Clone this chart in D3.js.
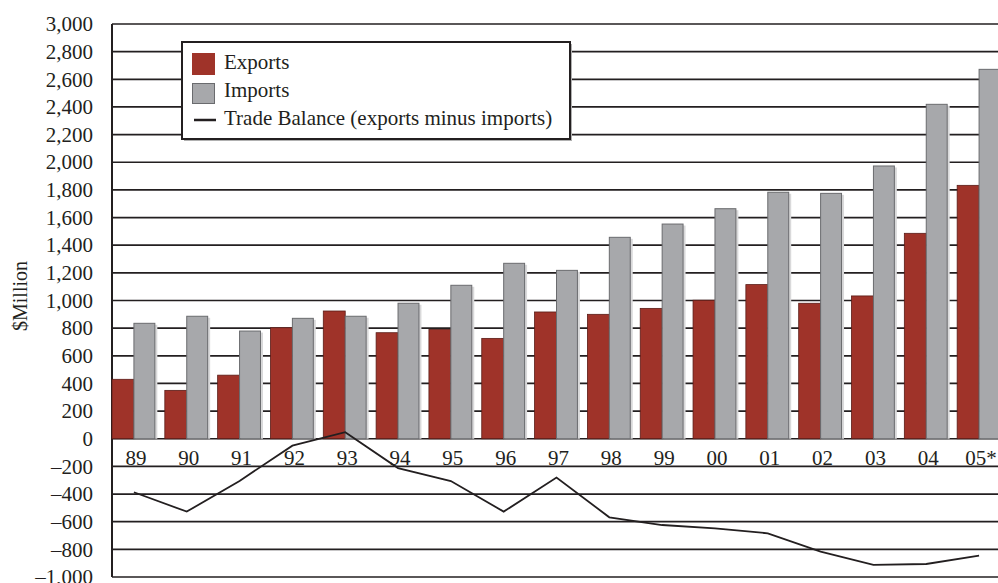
<!DOCTYPE html>
<html>
<head>
<meta charset="utf-8">
<script src="https://cdn.jsdelivr.net/npm/d3@7"></script>
<style>
  html, body { margin: 0; padding: 0; background: #ffffff; }
  svg { display: block; }
  text { font-family: "Liberation Serif", "Times New Roman", serif; fill: #231f20; }
</style>
</head>
<body>
<svg id="chart" width="998" height="583"></svg>
<script>
// ---- data ----
const categories = ["89","90","91","92","93","94","95","96","97","98","99","00","01","02","03","04","05*"];
const exportsVals = [430, 350, 460, 803, 924, 767, 791, 726, 917, 900, 943, 1002, 1115, 980, 1033, 1486, 1833];
const importsVals = [835, 886, 779, 871, 886, 980, 1110, 1269, 1218, 1457, 1553, 1664, 1783, 1775, 1973, 2419, 2672];
const balanceVals = [-387, -527, -305, -50, 47, -212, -306, -527, -281, -568, -624, -648, -684, -817, -913, -906, -846];
const yTicks = [-1000, -800, -600, -400, -200, 0, 200, 400, 600, 800, 1000, 1200, 1400, 1600, 1800, 2000, 2200, 2400, 2600, 2800, 3000];
const legendLabels = ["Exports", "Imports", "Trade Balance (exports minus imports)"];
const yAxisTitle = "$Million";

// ---- layout ----
const svg = d3.select("#chart");
const plotLeft = 112, plotRight = 1001, plotTop = 24, plotBottom = 577;
const ink = "#231f20";
const exportColor = "#9f3329", exportStroke = "#5a1c17";
const importColor = "#a7a8ab", importStroke = "#6a6b6e";

const x = d3.scaleBand().domain(categories).range([plotLeft, plotRight]).paddingInner(0.17).paddingOuter(0);
const xSub = d3.scaleBand().domain(["exp", "imp"]).range([0, x.bandwidth()]).padding(0);
const y = d3.scaleLinear().domain([-1000, 3000]).range([plotBottom, plotTop]);

// gridlines
svg.append("g").selectAll("line").data(yTicks).join("line")
  .attr("x1", plotLeft).attr("x2", 998)
  .attr("y1", d => y(d)).attr("y2", d => y(d))
  .attr("stroke", ink).attr("stroke-width", 1.7);

// y axis
const yAxis = d3.axisLeft(y).tickValues(yTicks).tickSize(0).tickPadding(19)
  .tickFormat(d => d3.format(",")(d).replace("-", "\u2013").replace("\u2212", "\u2013"));
const ga = svg.append("g").attr("transform", `translate(${plotLeft},0)`).call(yAxis);
ga.select(".domain").remove();
ga.selectAll("text").attr("font-size", 21).attr("fill", ink)
  .style("font-family", '"Liberation Serif", serif');
svg.append("line").attr("x1", plotLeft).attr("x2", plotLeft).attr("y1", plotTop).attr("y2", plotBottom)
  .attr("stroke", ink).attr("stroke-width", 2);

// y title
svg.append("text").attr("transform", `translate(27,296) rotate(-90)`)
  .attr("text-anchor", "middle").attr("font-size", 20).text(yAxisTitle);

// bars
const groups = svg.append("g").selectAll("g").data(categories).join("g")
  .attr("transform", d => `translate(${x(d)},0)`);
// shadows
groups.append("rect")
  .attr("x", xSub("imp") + 1.5).attr("width", xSub.bandwidth())
  .attr("y", (d, i) => y(importsVals[i]) + 1.5).attr("height", (d, i) => y(0) - y(importsVals[i]) - 1.5)
  .attr("fill", "#d9d9da");
groups.append("rect")
  .attr("x", xSub("exp")).attr("width", xSub.bandwidth())
  .attr("y", (d, i) => y(exportsVals[i])).attr("height", (d, i) => y(0) - y(exportsVals[i]))
  .attr("fill", exportColor).attr("stroke", exportStroke).attr("stroke-width", 0.8);
groups.append("rect")
  .attr("x", xSub("imp")).attr("width", xSub.bandwidth() - 1)
  .attr("y", (d, i) => y(importsVals[i])).attr("height", (d, i) => y(0) - y(importsVals[i]))
  .attr("fill", importColor).attr("stroke", importStroke).attr("stroke-width", 1);

// category labels
svg.append("g").selectAll("text").data(categories).join("text")
  .attr("x", d => x(d) + x.bandwidth() / 2 + 2)
  .attr("y", 465)
  .attr("text-anchor", "middle").attr("font-size", 21).text(d => d);

// trade balance line
const line = d3.line()
  .x((d, i) => x(categories[i]) + x.bandwidth() / 2)
  .y(d => y(d));
svg.append("path").datum(balanceVals).attr("d", line)
  .attr("fill", "none").attr("stroke", ink).attr("stroke-width", 1.8).attr("stroke-linejoin", "miter");

// legend
const lg = svg.append("g");
lg.append("rect").attr("x", 184).attr("y", 44).attr("width", 388).attr("height", 97).attr("fill", "#b0b0b0");
lg.append("rect").attr("x", 182).attr("y", 42).attr("width", 388).attr("height", 97)
  .attr("fill", "#ffffff").attr("stroke", ink).attr("stroke-width", 2);
lg.append("rect").attr("x", 192).attr("y", 53).attr("width", 23).attr("height", 22).attr("fill", exportColor);
lg.append("rect").attr("x", 192.5).attr("y", 83.5).attr("width", 22).attr("height", 20)
  .attr("fill", importColor).attr("stroke", importStroke).attr("stroke-width", 1);
lg.append("line").attr("x1", 194).attr("x2", 216).attr("y1", 120).attr("y2", 120)
  .attr("stroke", ink).attr("stroke-width", 2.5);
lg.selectAll("text.leg").data(legendLabels).join("text").attr("class", "leg")
  .attr("x", 224).attr("y", (d, i) => 69 + i * 28)
  .attr("font-size", 21).text(d => d);
</script>
</body>
</html>
